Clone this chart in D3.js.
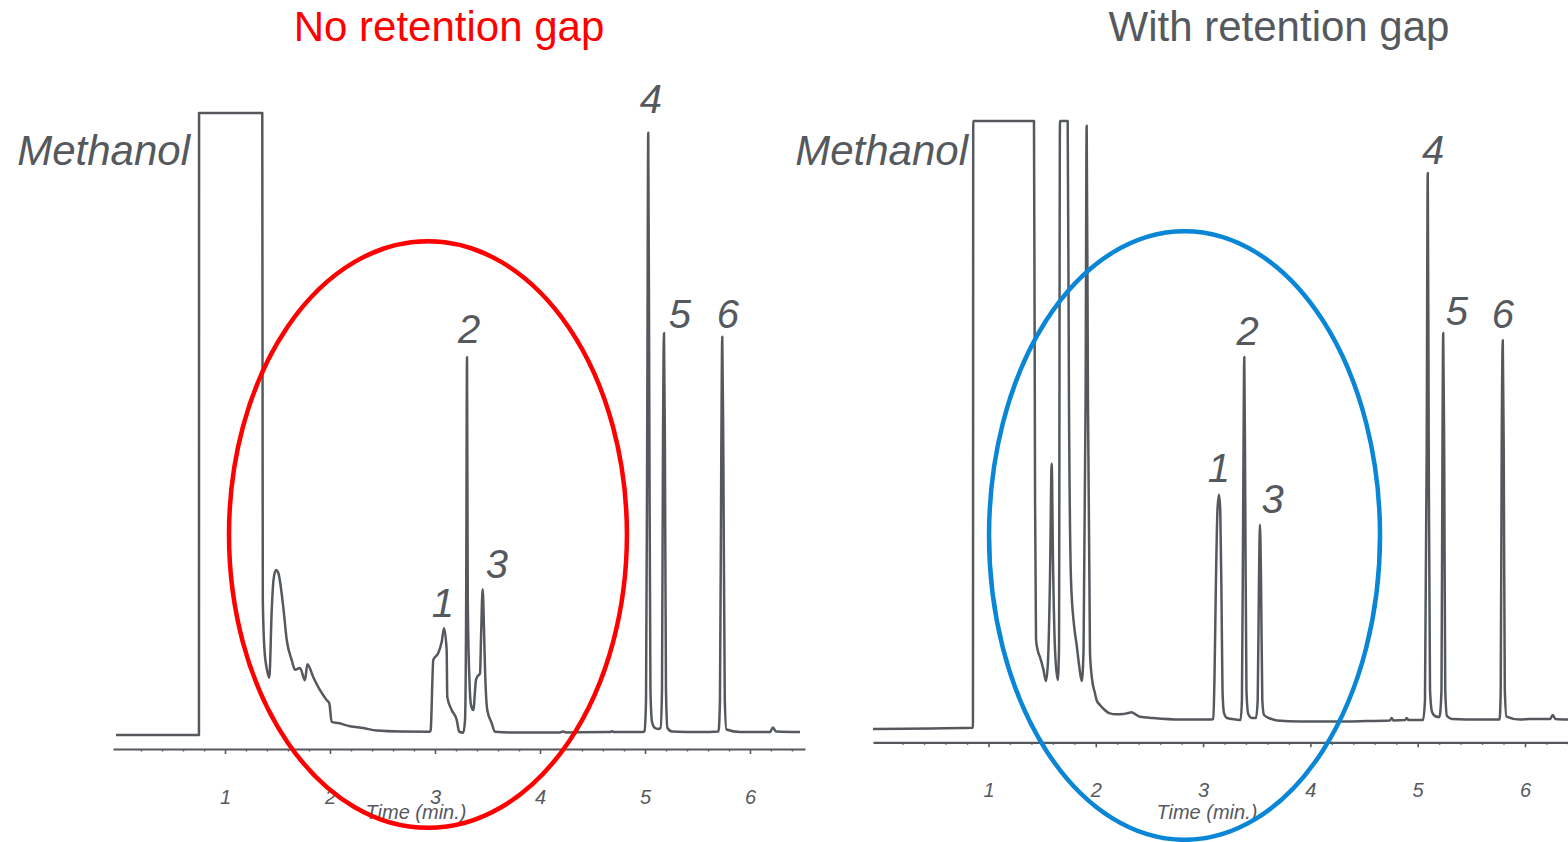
<!DOCTYPE html>
<html><head><meta charset="utf-8">
<script src="https://cdn.jsdelivr.net/npm/d3@7"></script>
<style>body{margin:0;background:#fff} svg{display:block} text{font-family:"Liberation Sans",Arial,sans-serif}</style>
</head><body>
<svg id="c" width="1568" height="842"></svg>
<script>
// ---- Data: "No retention gap" chromatogram (time in min, relative signal) ----
const noGapTime = [-0.038,0.752,0.753,1.355,1.360,1.376,1.400,1.422,1.445,1.462,1.486,1.508,1.555,1.588,1.635,1.667,1.714,1.762,1.784,1.841,1.905,1.969,1.993,2.016,2.079,2.190,2.317,2.445,2.667,2.952,2.959,2.984,3.031,3.064,3.086,3.111,3.117,3.159,3.207,3.231,3.270,3.286,3.297,3.305,3.312,3.329,3.343,3.365,3.390,3.403,3.429,3.438,3.454,3.467,3.476,3.498,3.540,3.571,3.714,4.190,4.219,4.248,4.667,4.686,4.705,4.981,4.995,5.010,5.022,5.031,5.041,5.052,5.067,5.095,5.124,5.148,5.162,5.171,5.181,5.190,5.200,5.214,5.257,5.524,5.700,5.714,5.727,5.736,5.746,5.760,5.776,5.905,6.190,6.219,6.248,6.476];
const noGapSignal = [-0.32,-0.32,100,100,21.5,13.4,10.2,8.9,19.8,24.7,26.3,25.8,20.3,15.0,11.8,10.2,10.5,8.5,11.1,9.0,6.9,5.3,4.8,1.8,1.6,1.1,0.8,0.4,0.24,0.2,0.5,11.8,12.9,14.7,16.9,13.4,5.8,3.7,2.1,0.2,0.05,2.1,21.5,60.6,21.5,8.1,4.5,3.7,8.5,9.1,9.6,15,23.2,16.6,10.6,3.7,1.6,0.2,0.1,0.1,0.25,0.1,0.15,0.3,0.15,0.15,0.3,5.3,53,96.8,53,6.9,1.8,0.8,0.65,0.8,6.9,45,64.5,45,6.9,0.8,0.24,0.15,0.24,5.3,45.6,63.9,45.6,5.3,0.56,0.15,0.15,0.9,0.24,0.15];

// ---- Data: "With retention gap" chromatogram ----
const gapTime = [-0.076,0.855,0.858,1.424,1.434,1.443,1.462,1.480,1.511,1.536,1.555,1.573,1.589,1.601,1.620,1.645,1.657,1.666,1.738,1.750,1.769,1.798,1.822,1.844,1.869,1.886,1.905,1.915,1.927,1.946,1.964,1.992,2.008,2.039,2.076,2.132,2.189,2.256,2.300,2.334,2.356,2.412,2.533,2.785,3.080,3.095,3.106,3.120,3.134,3.148,3.160,3.172,3.181,3.195,3.223,3.307,3.349,3.362,3.374,3.384,3.393,3.404,3.421,3.456,3.493,3.509,3.521,3.530,3.540,3.552,3.568,3.624,3.689,3.903,4.183,4.462,4.741,4.757,4.774,4.882,4.897,4.914,5.050,5.068,5.084,5.094,5.103,5.115,5.134,5.170,5.203,5.222,5.231,5.238,5.247,5.257,5.273,5.320,5.580,5.763,5.774,5.783,5.793,5.802,5.812,5.828,5.953,6.047,6.234,6.259,6.284,6.401];
const gapSignal = [-1.5,-1.3,100,100,36.7,13.4,11.4,10.5,8.5,6.5,10,23.4,42.8,26.7,11.7,6.7,11.7,100,100,53.4,23.4,15.7,12.5,9.2,6.5,11.7,53.4,99.2,53.4,11.2,7.0,4.5,3.3,2.5,1.8,1.1,0.95,1.0,1.17,1.3,1.1,0.55,0.33,0.08,0.08,0.17,6.7,23.4,35,37.6,35,20,5,1.17,0.33,0.08,0,3.3,36.7,60.6,36.7,5,1.0,0.33,0.33,3.3,23.4,32.6,23.4,3.3,0.83,0.25,-0.08,-0.25,-0.25,-0.2,-0.08,0.33,-0.08,0,0.33,0,0,3.3,45,91.3,45,5,1.34,0.58,0.5,5,45,64.6,45,5,0.67,0.17,0.08,0.08,5,45,63.4,45,5,0.58,0.08,0.17,0.17,0.83,0.17,0.08];

// ---- Tick labels and annotations ----
const majorTicks = [1,2,3,4,5,6];
const minorTicks = d3.range(1,33).map(i => +(i*0.2).toFixed(1)).filter(v => Math.abs(v-Math.round(v))>1e-6);
const peakLabels = ["1","2","3","4","5","6"];
const noGapLabelTime = [3.076,3.324,3.590,5.057,5.333,5.790];
const noGapLabelSignal = [18.7,62.9,25.0,100,65.3,65.3];
const gapLabelTime = [3.148,3.414,3.647,5.143,5.366,5.795];
const gapLabelSignal = [39.7,62.6,34.6,92.8,65.9,65.4];
const solventLabel = "Methanol";
const titles = ["No retention gap","With retention gap"];
const axisTitle = "Time (min.)";

// ---- Layout ----
const ink = "#55595e";
const panels = [
  {time:noGapTime, signal:noGapSignal, tDom:[-0.0667,6.524], xr:[113,805], yr:[733,113], axisY:749,
   lt:noGapLabelTime, ls:noGapLabelSignal, solvent:[0.667,91.6], title:titles[0], titleX:449, titleColor:"#ff0000",
   axisTitleT:2.819, ell:{t:2.933,v:32.0,rt:1.895,rv:47.3,color:"#ff0000"}},
  {time:gapTime, signal:gapSignal, tDom:[-0.0764,6.401], xr:[873,1568], yr:[720,121], axisY:742.3,
   lt:gapLabelTime, ls:gapLabelSignal, solvent:[0.809,92.7], title:titles[1], titleX:1279, titleColor:ink,
   axisTitleT:3.036, ell:{t:2.827,v:30.8,rt:1.822,rv:50.8,color:"#0a86d6"}}
];

const svg = d3.select("#c");

panels.forEach(p => {
  const x = d3.scaleLinear().domain(p.tDom).range(p.xr);
  const y = d3.scaleLinear().domain([0,100]).range(p.yr);
  const g = svg.append("g");

  // title
  g.append("text").attr("x",p.titleX).attr("y",41).attr("text-anchor","middle")
    .attr("font-size",42).attr("fill",p.titleColor).text(p.title);

  // axis
  const ax = g.append("g").attr("transform",`translate(0,${p.axisY})`)
    .call(d3.axisBottom(x).tickValues(majorTicks).tickSize(5).tickSizeOuter(0).tickPadding(35.5).tickFormat(d3.format("d")));
  ax.select(".domain").attr("stroke",ink).attr("stroke-width",2.2);
  ax.selectAll(".tick line").attr("stroke",ink).attr("stroke-width",1.6);
  ax.selectAll(".tick text").attr("fill",ink).attr("font-size",20).attr("font-style","italic")
    .attr("font-family",'"Liberation Sans",Arial,sans-serif');
  const mx = g.append("g").attr("transform",`translate(0,${p.axisY})`)
    .call(d3.axisBottom(x).tickValues(minorTicks).tickSize(2.5).tickSizeOuter(0).tickFormat(""));
  mx.select(".domain").remove();
  mx.selectAll(".tick line").attr("stroke",ink).attr("stroke-width",1.4);

  g.append("text").attr("x",x(p.axisTitleT)).attr("y",819).attr("text-anchor","middle")
    .attr("font-size",20).attr("font-style","italic").attr("fill",ink).text(axisTitle);

  // trace
  const pts = p.time.map((t,i) => [t, p.signal[i]]);
  g.append("path").datum(pts)
    .attr("d", d3.line().curve(d3.curveMonotoneX).x(d => x(d[0])).y(d => y(d[1])))
    .attr("fill","none").attr("stroke",ink).attr("stroke-width",2.5).attr("stroke-linejoin","round");

  // labels
  g.append("text").attr("x",x(p.solvent[0])).attr("y",y(p.solvent[1])).attr("text-anchor","end")
    .attr("font-size",42).attr("font-style","italic").attr("fill",ink).text(solventLabel);
  peakLabels.forEach((s,i) => {
    g.append("text").attr("x",x(p.lt[i])).attr("y",y(p.ls[i])).attr("text-anchor","middle")
      .attr("font-size",40).attr("font-style","italic").attr("fill",ink).text(s);
  });

  // ellipse
  const e = p.ell;
  g.append("ellipse").attr("cx",x(e.t)).attr("cy",y(e.v))
    .attr("rx",x(e.t+e.rt)-x(e.t)).attr("ry",y(0)-y(e.rv))
    .attr("fill","none").attr("stroke",e.color).attr("stroke-width",4.5);
});
</script>
</body></html>
